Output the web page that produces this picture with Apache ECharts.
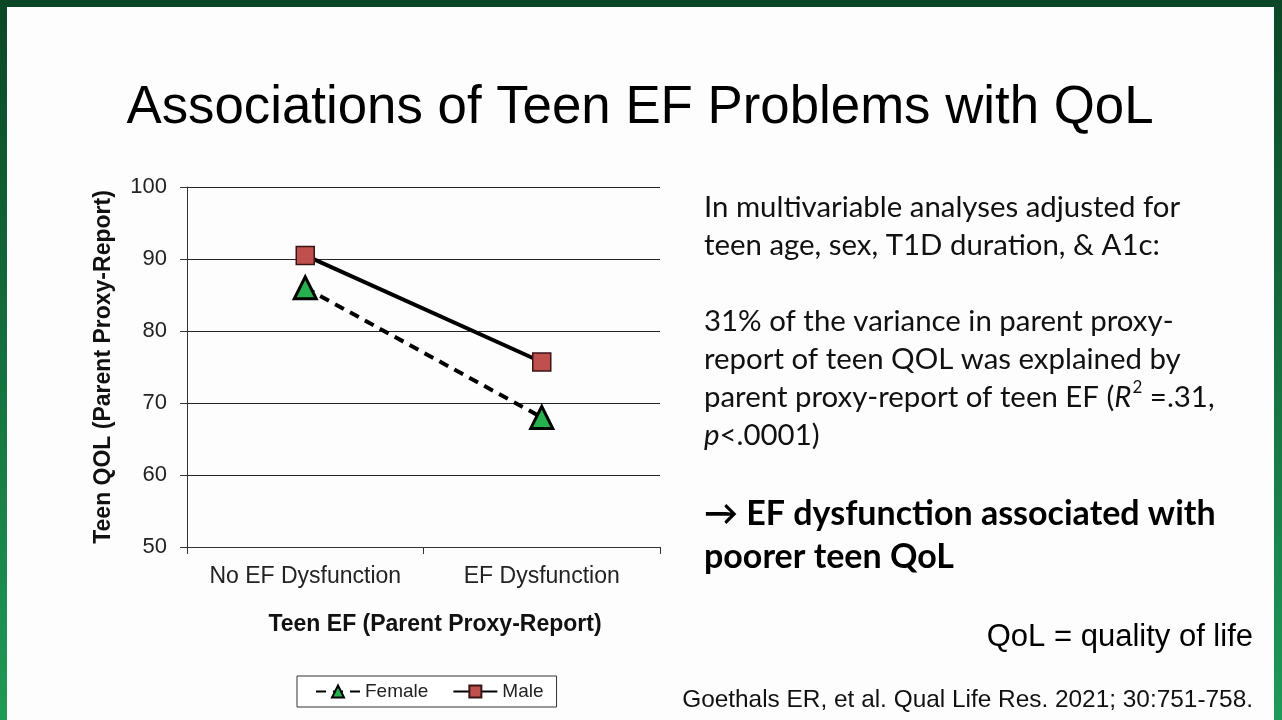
<!DOCTYPE html>
<html>
<head>
<meta charset="utf-8">
<script src="https://cdn.jsdelivr.net/npm/echarts@6/dist/echarts.min.js"></script>
<style>
html,body{margin:0;padding:0;background:#fdfdfd;}
#c{width:1282px;height:720px;}
</style>
</head>
<body>
<div id="c"></div>
<script>
const categories = ['No EF Dysfunction', 'EF Dysfunction'];
const femaleValues = [86.0, 68.0];
const maleValues = [90.5, 75.7];
const yTicks = [50, 60, 70, 80, 90, 100];

const chart = echarts.init(document.getElementById('c'), null, {renderer: 'canvas'});

const frameGrad = new echarts.graphic.LinearGradient(0, 0, 0, 1, [
  {offset: 0, color: '#0b4726'},
  {offset: 1, color: '#1f9a58'}
]);

const option = {
  backgroundColor: '#fdfdfd',
  animation: false,
  grid: {left: 187, right: 622, top: 187, bottom: 173, containLabel: false},
  xAxis: {
    type: 'category',
    data: categories,
    boundaryGap: true,
    axisLine: {show: true, lineStyle: {color: '#333', width: 1}},
    axisTick: {show: true, length: 7, interval: 0, lineStyle: {color: '#333'}},
    axisLabel: {color: '#222', fontFamily: 'Liberation Sans, Arial', fontSize: 23, margin: 18, interval: 0, hideOverlap: false},
    splitLine: {show: false}
  },
  yAxis: {
    type: 'value',
    min: yTicks[0],
    max: yTicks[yTicks.length - 1],
    interval: 10,
    axisLine: {show: true, lineStyle: {color: '#333', width: 1}},
    axisTick: {show: true, length: 7, lineStyle: {color: '#333'}},
    axisLabel: {color: '#222', fontFamily: 'Liberation Sans, Arial', fontSize: 22, margin: 20},
    splitLine: {show: true, lineStyle: {color: '#222', width: 1}},
    name: 'Teen QOL (Parent Proxy-Report)',
    nameLocation: 'middle',
    nameRotate: 90,
    nameGap: 72,
    nameTextStyle: {color: '#111', fontFamily: 'Liberation Sans, Arial', fontSize: 23, fontWeight: 'bold'}
  },
  legend: {
    left: 297,
    top: 676,
    data: ['Female', 'Male'],
    orient: 'horizontal',
    borderColor: '#333',
    borderWidth: 1,
    padding: [6, 13, 6, 18],
    itemGap: 24,
    itemWidth: 44,
    itemHeight: 15,
    textStyle: {color: '#222', fontFamily: 'Liberation Sans, Arial', fontSize: 19},
    backgroundColor: '#fff'
  },
  series: [
    {
      name: 'Female',
      type: 'line',
      data: femaleValues,
      symbol: 'triangle',
      symbolSize: 22,
      lineStyle: {color: '#000', width: 4, type: [10, 7]},
      itemStyle: {color: '#27b04e', borderColor: '#000', borderWidth: 3},
      z: 3
    },
    {
      name: 'Male',
      type: 'line',
      data: maleValues,
      symbol: 'rect',
      symbolSize: 18,
      lineStyle: {color: '#000', width: 4},
      itemStyle: {color: '#c0504d', borderColor: '#3a1515', borderWidth: 1.5},
      z: 4
    }
  ],
  graphic: [
    {type: 'rect', left: 0, top: 0, shape: {width: 1282, height: 7}, style: {fill: '#0b4726'}, silent: true},
    {type: 'rect', left: 0, top: 0, shape: {width: 7, height: 720}, style: {fill: frameGrad}, silent: true},
    {type: 'rect', left: 1274, top: 0, shape: {width: 8, height: 720}, style: {fill: frameGrad}, silent: true},
    {
      type: 'text', x: 640, y: 108,
      style: {text: 'Associations of Teen EF Problems with QoL', fill: '#000',
        font: '52.8px "Liberation Sans", Arial', align: 'center', verticalAlign: 'middle'}
    },
    {
      type: 'text', x: 435, y: 625,
      style: {text: 'Teen EF (Parent Proxy-Report)', fill: '#111',
        font: 'bold 23px "Liberation Sans", Arial', align: 'center', verticalAlign: 'middle'}
    },
    {
      type: 'text', x: 704, y: 189,
      style: {
        text: 'In multivariable analyses adjusted for\nteen age, sex, T1D duration, & A1c:\n\n31% of the variance in parent proxy-\nreport of teen QOL was explained by\nparent proxy-report of teen EF ({i|R}{sup|2} =.31,\n{i|p}<.0001)',
        fill: '#111', font: '29.4px Lato', lineHeight: 38, align: 'left', verticalAlign: 'top',
        rich: {
          i: {fontStyle: 'italic', fontFamily: 'Lato', fontSize: 29.4, fill: '#111'},
          sup: {fontFamily: 'Lato', fontSize: 17, fill: '#111', verticalAlign: 'top', padding: [0, 0, 12, 1]}
        }
      }
    },
    {
      type: 'text', x: 704, y: 493,
      style: {
        text: '\u2192 EF dysfunction associated with\npoorer teen QoL',
        fill: '#000', font: 'bold 34px Lato', lineHeight: 43, align: 'left', verticalAlign: 'top'
      }
    },
    {
      type: 'text', x: 1253, y: 637,
      style: {text: 'QoL = quality of life', fill: '#000',
        font: '31px "Liberation Sans", Arial', align: 'right', verticalAlign: 'middle'}
    },
    {
      type: 'text', x: 1253, y: 700,
      style: {text: 'Goethals ER, et al. Qual Life Res. 2021; 30:751-758.', fill: '#111',
        font: '24.4px "Liberation Sans", Arial', align: 'right', verticalAlign: 'middle'}
    }
  ]
};
chart.setOption(option);
</script>
</body>
</html>
